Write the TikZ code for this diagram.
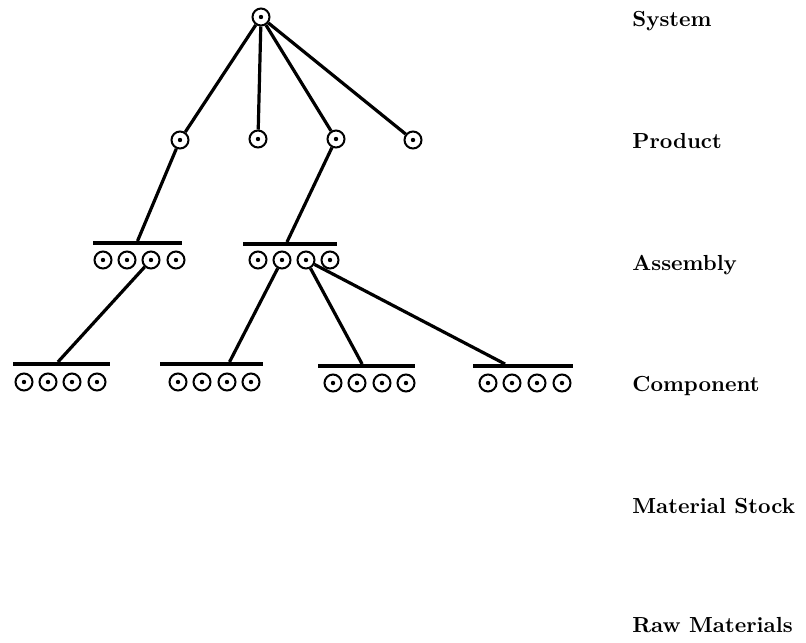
\documentclass[tikz,border=0pt]{standalone}
\usepackage{tikz}
\usetikzlibrary{positioning,calc}

\begin{document}
\begin{tikzpicture}[x=0.5pt, y=-0.5pt,
  item/.style={draw, circle, line width=1pt, minimum size=8.5pt, inner sep=0pt,
    path picture={\fill (path picture bounding box.center) circle (1.1pt);}},
  bar/.style={fill=black, inner sep=0pt, minimum height=1.6pt},
  link/.style={line width=1.6pt},
  level/.style={anchor=base west, inner sep=0pt, font=\fontsize{10.9}{13}\selectfont\bfseries}
]
\useasboundingbox (0,0) rectangle (806,642);
% ================= system and products =================
\node[item] (sys) at (261,17) {};
\node[item] (pr1) at (180,140) {};
\node[item] (pr2) at (258,139) {};
\node[item] (pr3) at (336,139) {};
\node[item] (pr4) at (413,140) {};
% ================= assemblies =================
\node[bar, minimum width=44.5pt] (as1) at (137.5,243) {};
\node[bar, minimum width=47pt]   (as2) at (290,244) {};
\foreach \i/\x in {1/103,2/127,3/151,4/176}
  \node[item] (as1-\i) at (\x,260) {};
\foreach \i/\x in {1/258,2/282,3/306,4/330}
  \node[item] (as2-\i) at (\x,260) {};
% ================= components =================
\node[bar, minimum width=48.5pt] (cp1) at (61.5,364) {};
\node[bar, minimum width=51.5pt] (cp2) at (211.5,364) {};
\node[bar, minimum width=48.5pt] (cp3) at (366.5,366) {};
\node[bar, minimum width=50pt]   (cp4) at (523,366) {};
\foreach \i/\x in {1/24,2/48,3/72,4/97}
  \node[item] (cp1-\i) at (\x,382) {};
\foreach \i/\x in {1/178,2/202,3/227,4/251}
  \node[item] (cp2-\i) at (\x,382) {};
\foreach \i/\x in {1/333,2/357,3/382,4/406}
  \node[item] (cp3-\i) at (\x,383) {};
\foreach \i/\x in {1/488,2/512,3/537,4/562}
  \node[item] (cp4-\i) at (\x,383) {};
% ================= links =================
\draw[link] (sys) -- (pr1);
\draw[link] (sys) -- (pr2);
\draw[link] (sys) -- (pr3);
\draw[link] (sys) -- (pr4);
\draw[link] (pr1) -- (as1.north);
\draw[link] (pr3) -- ([xshift=-1.5pt]as2.north);
\draw[link] (as1-3) -- ([xshift=-1.8pt]cp1.north);
\draw[link] (as2-2) -- ([xshift=9pt]cp2.north);
\draw[link] (as2-3) -- ([xshift=-2.2pt]cp3.north);
\draw[link] (as2-3) -- ([xshift=-9pt]cp4.north);
% ================= level names =================
\node[level] (lvsys) at (632,27)  {System};
\node[level] (lvpr)  at (632,148) {Product};
\node[level] (lvas)  at (632,270) {Assembly};
\node[level] (lvcp)  at (632,391) {Component};
\node[level] (lvms)  at (632,513) {Material Stock};
\node[level] (lvrm)  at (632,632) {Raw Materials};
\end{tikzpicture}
\end{document}
